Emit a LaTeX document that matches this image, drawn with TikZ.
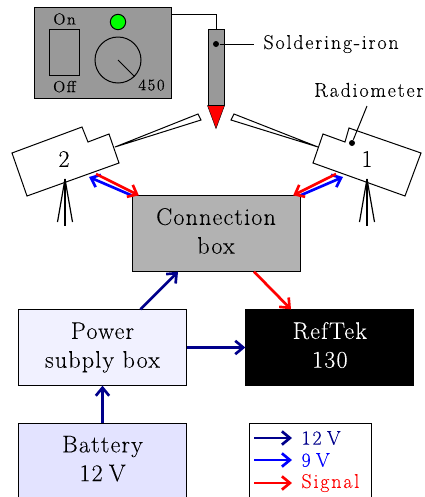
\documentclass[tikz,border=0pt]{standalone}
\usepackage{xcolor}
\usepackage{fontspec}
\usepackage{tikz}
\usetikzlibrary{positioning,arrows.meta,calc}
\setmainfont{Latin Modern Roman}[LetterSpace=5,FakeBold=0.06]
\newfontfamily\etiqueta{Latin Modern Roman}[LetterSpace=9,FakeBold=0.06]
\newcommand{\grande}{\fontsize{18}{21.6}\selectfont}
\newcommand{\mediano}{\fontsize{15}{18}\selectfont}
\newcommand{\prof}{\rule[-0.22em]{0pt}{0pt}}
\newcommand{\voltio}{\hspace{0.26em}V}
\definecolor{panel}{gray}{0.6}
\definecolor{caja}{gray}{0.7}
\definecolor{fuente}{RGB}{241,241,255}
\definecolor{bateria}{RGB}{227,227,255}
\definecolor{azul}{RGB}{0,0,139}

\begin{document}
\begin{tikzpicture}[x=0.75pt, y=-0.75pt, line width=0.75pt,
  caja/.style={draw, minimum width=126pt, minimum height=56.5pt, align=center,
               inner sep=0pt, font=\grande},
  etq/.style={font=\etiqueta\mediano, inner sep=0pt},
  etqch/.style={font=\etiqueta\fontsize{12}{14}\selectfont, inner sep=0pt},
  punto/.style={circle, fill=black, inner sep=0pt, minimum size=4.5pt},
  radio/.style={draw, fill=white, line join=miter},
  pata/.style={line width=0.9pt},
  flecha/.style={-{Straight Barb[length=6pt,width=10pt]}, line width=2pt},
  doce/.style={flecha, color=azul},
  nueve/.style={flecha, color=blue},
  senal/.style={flecha, color=red}]
  \clip (0,0) rectangle (425,497);
  % control unit
  \node[draw, fill=panel, minimum width=102.75pt, minimum height=68.25pt, inner sep=0pt]
       (ctrl) at (102.5,52.5) {};
  \node[draw, fill=panel, minimum width=22.5pt, minimum height=34pt, inner sep=0pt]
       (swt) at (64.5,52.5) {};
  \node[etqch, above=3pt of swt] (on) {On};
  \node[etqch, below=3.5pt of swt] (off) {Off};
  \node[draw, fill=green, circle, minimum size=11.5pt, inner sep=0pt] (led) at (118,22) {};
  \node[draw, circle, minimum size=34.5pt, inner sep=0pt] (dial) at (118,60) {};
  \draw (dial.center) -- (dial.-45);
  \node[etqch] (temp) at (151.5,85) {450};
  % soldering iron
  \node[draw, fill=panel, minimum width=12pt, minimum height=56.5pt, inner sep=0pt]
       (iron) at (216,67.5) {};
  \draw[fill=red, line width=0.3pt] (iron.south west) -- (iron.south east)
       -- ([yshift=-17.25pt]iron.south) -- cycle;
  \draw (iron.south west) -- (iron.south east);
  \draw ([yshift=-6pt]ctrl.north east) -| (iron.north);
  \node[punto] (ironpt) at (216,44) {};
  \node[etq, anchor=west] (ironlab) at (263,44) {Soldering-iron};
  \draw (ironpt) -- ([xshift=-6.75pt]ironlab.west);
  % radiometers
  \draw[radio] (323,134) -- (345,142) -- (349,128) -- (421,153) -- (405,196)
       -- (313,163) -- cycle;
  \draw[radio] (318,147) -- (231,120) -- (234,114) -- cycle;
  \draw[radio] (12,153) -- (82,127) -- (88,142) -- (109,134) -- (119,163)
       -- (27,196) -- cycle;
  \draw[radio] (115,147) -- (201,120) -- (198,114) -- cycle;
  \node[font=\grande, inner sep=0pt] (uno) at (367,159) {1};
  \node[font=\grande, inner sep=0pt] (dos) at (64,159) {2};
  \node[punto] (radpt) at (352,143) {};
  \node[etq, anchor=east] (radlab) at (424,90) {Radiometer};
  \draw (radpt) -- (367,106);
  % tripods
  \coordinate (cima1) at (367,179);
  \coordinate (cima2) at (65,179);
  \foreach \c/\x in {cima1/367, cima2/65}
    \foreach \d/\y in {-7.5/222, 0/226, 7.5/222}
      \draw[pata] (\c) -- (\x+\d,\y);
  % boxes
  \node[caja, fill=caja] (conn) at (216,233.5) {Connection\\box\prof};
  \node[caja, fill=fuente] (power) at (102.5,347.5) {Power\\subply box};
  \node[caja, fill=black, text=white, right=43.75pt of power] (reftek) {RefTek\\130\prof};
  \node[caja, fill=bateria, below=28pt of power] (bat) {Battery\\12\voltio\prof};
  % connections
  \draw[doce] (bat) -- (power);
  \draw[doce] (power) -- (reftek);
  \draw[doce] ([xshift=28.5pt]power.north) -- ([xshift=-28.5pt]conn.south);
  \draw[senal] ([xshift=28.5pt]conn.south) -- ([xshift=57pt-0.75pt]conn.south |- reftek.north);
  \coordinate (ent2) at (96,174);
  \coordinate (sal2) at (89,177);
  \coordinate (ent1) at (336,174);
  \coordinate (sal1) at (343,177);
  \draw[nueve] (conn.north west) -- (sal2);
  \draw[senal] (ent2) -- ([xshift=5.5pt]conn.north west);
  \draw[nueve] (conn.north east) -- (sal1);
  \draw[senal] (ent1) -- ([xshift=-5.5pt]conn.north east);
  % legend
  \node[draw, minimum width=91pt, minimum height=60pt, inner sep=0pt] (leyenda) at (310.5,463) {};
  \foreach \n/\y/\e/\c/\t in {a/438/doce/azul/12\voltio, b/460/nueve/blue/9\voltio, c/483/senal/red/Signal} {
    \coordinate (ini\n) at (254,\y);
    \node[anchor=west, font=\etiqueta\mediano, text=\c, inner sep=0pt, inner xsep=6.75pt] (fin\n) at (292,\y) {\t};
    \draw[\e] (ini\n) -- (fin\n.west);
  }
\end{tikzpicture}
\end{document}
